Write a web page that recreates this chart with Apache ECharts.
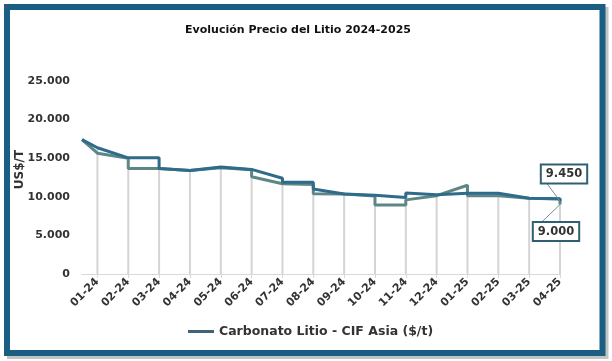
<!DOCTYPE html>
<html>
<head>
<meta charset="utf-8">
<script src="https://cdn.jsdelivr.net/npm/echarts@6/dist/echarts.min.js"></script>
<style>
html,body{margin:0;padding:0;background:#fff;}
#chart{width:612px;height:361px;}
</style>
</head>
<body>
<div id="chart"></div>
<script>
const categories = ['01-24','02-24','03-24','04-24','05-24','06-24','07-24','08-24','09-24','10-24','11-24','12-24','01-25','02-25','03-25','04-25'];
const yTicks = [0, 5000, 10000, 15000, 20000, 25000];

// Series A (main, legend) — x = month index, y = US$/t
const seriesAX = [-0.5,0,1,2,2,3,4,5,6,6,7,7,8,9,10,10,11,12,13,14,15,15];
const seriesAY = [17400,16350,15050,15050,13650,13400,13850,13550,12400,11900,11900,11000,10350,10200,9900,10500,10250,10450,10450,9800,9750,9450];

// Series B (second trace)
const seriesBX = [-0.5,0,1,1,2,3,4,5,5,6,7,7,8,9,9,10,10,11,12,12,13,14,15,15];
const seriesBY = [17400,15650,15000,13650,13650,13400,13750,13500,12600,11700,11600,10400,10350,10100,8950,8950,9600,10150,11500,10150,10150,9800,9700,9000];

const seriesName = 'Carbonato Litio - CIF Asia ($/t)';

function fmt(v){ return String(Math.round(v)).replace(/\B(?=(\d{3})+(?!\d))/g, '.'); }

// drop line heights: highest value of either trace at each month
const dropTop = categories.map((c, i) => {
  let m = 0;
  seriesAX.forEach((x, k) => { if (x === i) m = Math.max(m, seriesAY[k]); });
  seriesBX.forEach((x, k) => { if (x === i) m = Math.max(m, seriesBY[k]); });
  return [i, m];
});

const labelBox = {
  show: true,
  formatter: p => fmt(p.value[1]),
  position: 'inside',
  backgroundColor: '#fff',
  borderColor: '#2f5f72',
  borderWidth: 2,
  padding: [3, 4, 2, 4],
  fontFamily: 'DejaVu Sans',
  fontWeight: 'bold',
  fontSize: 11.5,
  color: '#333'
};

function buildData(xs, ys){
  return xs.map((x, i) => i === xs.length - 1
    ? { value: [x, ys[i]], label: labelBox, labelLine: { show: true, lineStyle: { color: '#6f8f99', width: 1 } } }
    : { value: [x, ys[i]] });
}

const chart = echarts.init(document.getElementById('chart'), null, { renderer: 'canvas' });
chart.setOption({
  animation: false,
  backgroundColor: '#fff',
  graphic: [
    { type: 'rect', shape: { x: 10, y: 10, width: 595.5, height: 346 }, style: { fill: 'none', stroke: '#c4c4c4', lineWidth: 6 }, z: -10 },
    { type: 'rect', shape: { x: 7, y: 7, width: 595.5, height: 346 }, style: { fill: '#fff', stroke: '#1b5e84', lineWidth: 6 }, z: -9 }
  ],
  title: {
    text: 'Evolución Precio del Litio 2024-2025',
    left: 293, top: 20, textAlign: 'center',
    textStyle: { fontFamily: 'DejaVu Sans', fontWeight: 'bold', fontSize: 11, color: '#111' }
  },
  legend: {
    data: [seriesName],
    left: 183, top: 320,
    icon: 'rect', itemWidth: 26, itemHeight: 3, itemGap: 6,
    textStyle: { fontFamily: 'DejaVu Sans', fontWeight: 'bold', fontSize: 12.5, color: '#333' },
    itemStyle: { color: '#3d6478' }
  },
  grid: { left: 82, right: 52, top: 81, bottom: 87, containLabel: false },
  xAxis: {
    type: 'value', min: -0.5, max: 15,
    splitLine: { show: false },
    axisLine: { show: true, lineStyle: { color: '#d9d9d9', width: 1 } },
    axisTick: { show: true, customValues: categories.map((c, i) => i), length: 4, lineStyle: { color: '#d9d9d9' } },
    axisLabel: {
      customValues: categories.map((c, i) => i),
      formatter: v => categories[Math.round(v)] || '',
      rotate: 45, margin: 6,
      fontFamily: 'DejaVu Sans', fontWeight: 'bold', fontSize: 11, color: '#333'
    }
  },
  yAxis: {
    type: 'value', min: 0, max: 25000, interval: 5000,
    name: 'US$/T', nameLocation: 'middle', nameGap: 56, nameRotate: 90,
    nameMoveOverlap: false,
    nameTextStyle: { fontFamily: 'DejaVu Sans', fontWeight: 'bold', fontSize: 12, color: '#333', padding: [0, 0, 0, 16] },
    splitLine: { show: false },
    axisLine: { show: false }, axisTick: { show: false },
    axisLabel: { formatter: v => fmt(v), margin: 12, fontFamily: 'DejaVu Sans', fontWeight: 'bold', fontSize: 11, color: '#333' }
  },
  series: [
    {
      type: 'bar', name: 'drop', data: dropTop, barWidth: 2, silent: true,
      itemStyle: { color: '#d4d4d4' }, z: 1
    },
    {
      type: 'line', name: 'trace2', data: buildData(seriesBX, seriesBY),
      showSymbol: true, symbol: 'circle', symbolSize: 0,
      lineStyle: { color: '#5d8686', width: 3 },
      itemStyle: { color: '#5d8686' },
      labelLayout: { dx: -4, dy: 27 },
      z: 3
    },
    {
      type: 'line', name: seriesName, data: buildData(seriesAX, seriesAY),
      showSymbol: true, symbol: 'circle', symbolSize: 0,
      lineStyle: { color: '#2f6b8a', width: 3 },
      itemStyle: { color: '#3d6478' },
      labelLayout: { dx: 4, dy: -27 },
      z: 4
    }
  ]
});
</script>
</body>
</html>
